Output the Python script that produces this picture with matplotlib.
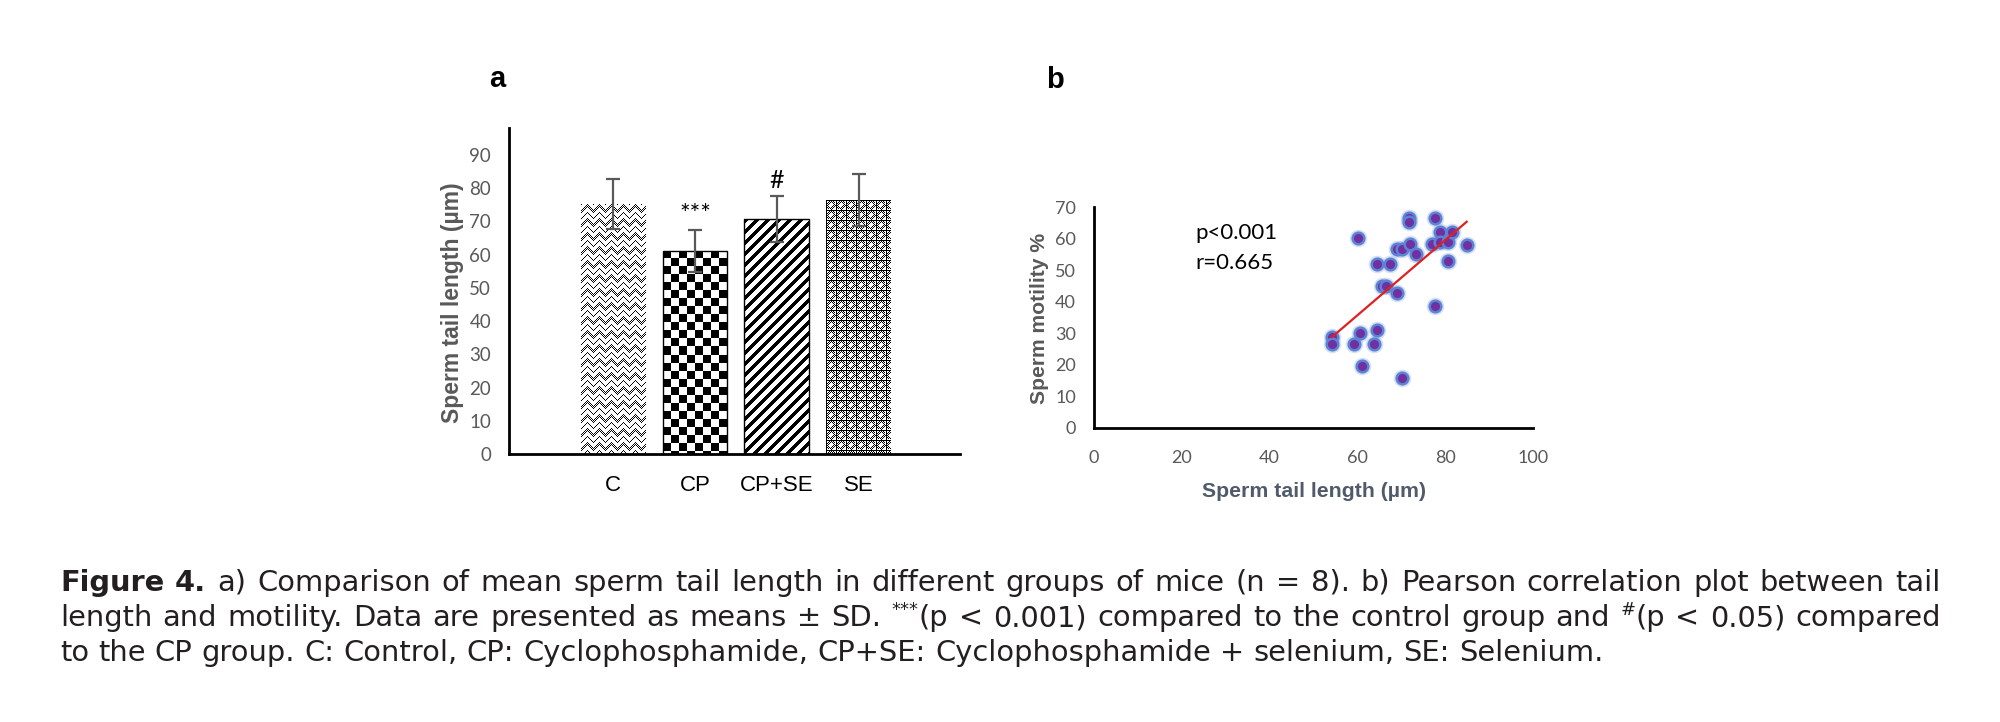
import numpy as np
import matplotlib
matplotlib.use("Agg")
import matplotlib.pyplot as plt

# panel a: mean sperm tail length per group
groups = ["C", "CP", "CP+SE", "SE"]
tail_mean = [75.2, 61.1, 70.6, 76.4]
tail_sd = [7.6, 6.3, 6.9, 7.8]
sig_marks = ["", "***", "#", ""]

# panel b: tail length vs motility
tail_len = [54.2, 54.2, 59.3, 60.7, 61.0, 60.2, 63.8, 64.5, 64.5, 67.4,
            65.6, 66.6, 69.0, 69.0, 70.2, 70.1, 71.8, 71.8, 71.9, 73.4,
            76.9, 77.7, 77.7, 78.8, 78.8, 80.7, 80.7, 81.5, 84.9]
motility = [28.9, 26.6, 26.6, 30.2, 19.7, 60.2, 26.6, 31.0, 52.1, 52.1,
            45.0, 45.1, 42.9, 56.8, 56.6, 15.8, 66.4, 65.1, 58.2, 55.2,
            58.2, 66.4, 38.7, 62.2, 58.8, 58.8, 52.9, 62.1, 58.1]
fit_slope = 1.19
fit_icpt = -35.7
stats_lines = ["p<0.001", "r=0.665"]

caption_lines = [
    [("Figure", "b"), ("4.", "b"), ("a)", "r"), ("Comparison", "r"), ("of", "r"), ("mean", "r"),
     ("sperm", "r"), ("tail", "r"), ("length", "r"), ("in", "r"), ("different", "r"),
     ("groups", "r"), ("of", "r"), ("mice", "r"), ("(n", "r"), ("=", "r"), ("8).", "r"),
     ("b)", "r"), ("Pearson", "r"), ("correlation", "r"), ("plot", "r"), ("between", "r"),
     ("tail", "r")],
    [("length", "r"), ("and", "r"), ("motility.", "r"), ("Data", "r"), ("are", "r"),
     ("presented", "r"), ("as", "r"), ("means", "r"), ("±", "r"), ("SD.", "r"),
     ("***|(p", "s"), ("<", "r"), ("0.001)", "r"), ("compared", "r"), ("to", "r"), ("the", "r"),
     ("control", "r"), ("group", "r"), ("and", "r"), ("#|(p", "s"), ("<", "r"), ("0.05)", "r"),
     ("compared", "r")],
    [("to", "r"), ("the", "r"), ("CP", "r"), ("group.", "r"), ("C:", "r"), ("Control,", "r"),
     ("CP:", "r"), ("Cyclophosphamide,", "r"), ("CP+SE:", "r"), ("Cyclophosphamide", "r"),
     ("+", "r"), ("selenium,", "r"), ("SE:", "r"), ("Selenium.", "r")],
]

W, H = 2000, 722
plt.rcParams["font.family"] = ["Lato", "DejaVu Sans"]
fig = plt.figure(figsize=(W / 100, H / 100), dpi=100)
GRAY = "#595959"


def checker(h, w):
    i, j = np.indices((h, w))
    return ((i // 8 + j // 8) % 2).astype(float)


def stripes(h, w):
    i, j = np.indices((h, w))
    return (((i + j) % 11) >= 5).astype(float)


def zigzag(h, w):
    i, j = np.indices((h, w))
    tri = np.abs((j % 12) - 6)
    line = ((i - tri) % 7) < 3
    dots = (i + j) % 2 == 0
    return np.where(line & dots, 0.0, 1.0)


def lattice(h, w):
    i, j = np.indices((h, w))
    r = np.hypot((i % 10) - 4.5, (j % 10) - 4.5)
    dots = (i + j) % 2 == 0
    dark = ((r > 1.8) & (r < 4.6) & dots) | (((i % 10 == 0) | (j % 10 == 0)))
    return np.where(dark, 0.0, 1.0)


textures = [zigzag, checker, stripes, lattice]
edges = ["none", "black", "black", "none"]

# ---- panel a
ax = fig.add_axes([509.3 / W, 1 - 454 / H, (960 - 509.3) / W, (454 - 128) / H])
ax.set_xlim(-1.27, 4.24)
ax.set_ylim(0, 98.1)
xpos = np.arange(len(groups))
bars = ax.bar(xpos, tail_mean, width=0.79, facecolor="none", edgecolor=edges,
              linewidth=1.0, zorder=3)
for b, tex in zip(bars, textures):
    x0, w, h = b.get_x(), b.get_width(), b.get_height()
    p0 = ax.transData.transform((x0, 0))
    p1 = ax.transData.transform((x0 + w, h))
    img = tex(int(round(p1[1] - p0[1])), int(round(p1[0] - p0[0])))
    im = ax.imshow(img, extent=(x0, x0 + w, 0, h), cmap="gray", vmin=0, vmax=1,
                   interpolation="nearest", aspect="auto", zorder=2)
    im.set_clip_path(b)
ax.errorbar(xpos, tail_mean, yerr=tail_sd, fmt="none", ecolor=GRAY,
            elinewidth=1.6, capsize=5, capthick=1.6, zorder=4)
for xi, m, s, mk in zip(xpos, tail_mean, tail_sd, sig_marks):
    if mk:
        ax.text(xi, m + s + 1.2, mk, ha="center", va="bottom", fontsize=18, color="black")
ax.set_xlim(-1.27, 4.24)
ax.set_ylim(0, 98.1)
ax.set_yticks(range(0, 91, 10))
ax.set_xticks(xpos)
ax.set_xticklabels(groups, fontsize=16, family="Liberation Sans", color="black")
ax.tick_params(axis="y", length=0, pad=13, labelsize=13.5, labelcolor=GRAY)
ax.tick_params(axis="x", length=0, pad=15)
for side in ["top", "right"]:
    ax.spines[side].set_visible(False)
for side in ["left", "bottom"]:
    ax.spines[side].set_linewidth(2)
ax.set_ylabel("Sperm tail length (µm)", fontsize=16.5, fontweight="bold",
              family="Liberation Sans", color=GRAY)
ax.yaxis.set_label_coords(-0.100, 0.465)

# ---- panel b
bx = fig.add_axes([1094 / W, 1 - 428 / H, (1533 - 1094) / W, (428 - 207) / H])
bx.scatter(tail_len, motility, s=160, color="#8eaadb", alpha=0.35, linewidths=0, zorder=2)
bx.scatter(tail_len, motility, s=70, color="#7030A0", edgecolors="#5b84d6",
           linewidths=1.8, zorder=3)
fx = np.array([min(tail_len), max(tail_len)])
bx.plot(fx, fit_slope * fx + fit_icpt, color="#E02020", lw=1.6, zorder=4)
bx.text(23.2, 61.9, stats_lines[0], fontsize=16, va="center", ha="left", color="black")
bx.text(23.2, 52.2, stats_lines[1], fontsize=16, va="center", ha="left", color="black")
bx.set_xlim(0, 100)
bx.set_ylim(0, 70)
bx.set_xticks(range(0, 101, 20))
bx.set_yticks(range(0, 71, 10))
bx.tick_params(axis="y", length=0, pad=13, labelsize=13, labelcolor=GRAY)
bx.tick_params(axis="x", length=0, pad=16, labelsize=13, labelcolor=GRAY)
for side in ["top", "right"]:
    bx.spines[side].set_visible(False)
for side in ["left", "bottom"]:
    bx.spines[side].set_linewidth(2)
bx.set_ylabel("Sperm motility %", fontsize=15.2, fontweight="bold",
              family="Liberation Sans", color=GRAY)
bx.yaxis.set_label_coords(-0.102, 0.498)
bx.set_xlabel("Sperm tail length (µm)", fontsize=15.3, fontweight="bold",
              family="Liberation Sans", color="#505a6a")
bx.xaxis.set_label_coords(0.501, -0.245)

fig.text(497 / W, 1 - 79 / H, "a", fontsize=21, fontweight="bold",
         family="Liberation Sans", ha="center", va="center")
fig.text(1055 / W, 1 - 80 / H, "b", fontsize=21, fontweight="bold",
         family="Liberation Sans", ha="center", va="center")

# ---- caption, justified word by word
renderer = fig.canvas.get_renderer()
CAP_FONT = ["DejaVu Sans"]
CAP_COLOR = "#231f20"


def width_of(s, size):
    t = fig.text(0, 0, s, fontsize=size, family=CAP_FONT)
    wd = t.get_window_extent(renderer).width
    t.remove()
    return wd


# size the caption so the last (unjustified) line spans the same width as the original
last_line = " ".join(txt for txt, _ in caption_lines[-1])
CAP = 20 * 1540 / width_of(last_line, 20)


def put(txt, y, size, bold=False, rise=0.0):
    t = fig.text(0, 1 - y / H + rise, txt, fontsize=size, color=CAP_COLOR, family=CAP_FONT,
                 fontweight="bold" if bold else "normal", ha="left", va="baseline")
    return t, t.get_window_extent(renderer).width


space = width_of("a a", CAP) - width_of("aa", CAP)
x_left, x_right = 60, 1941
baselines = [591, 626, 661]
for n, (line, yb) in enumerate(zip(caption_lines, baselines)):
    words = []
    for txt, kind in line:
        parts = []
        if kind == "s":
            sup, rest = txt.split("|")
            parts.append(put(sup, yb, CAP * 0.62, rise=CAP * 0.38 / 72 * 100 / H))
            parts.append(put(rest, yb, CAP))
        else:
            parts.append(put(txt, yb, CAP, bold=(kind == "b")))
        words.append(parts)
    total = sum(wd for parts in words for _, wd in parts)
    gap = space if n == len(caption_lines) - 1 else (x_right - x_left - total) / (len(words) - 1)
    x = x_left
    for parts in words:
        for t, wd in parts:
            t.set_x(x / W)
            x += wd
        x += gap

fig.savefig("out.png", dpi=100, facecolor="white")
